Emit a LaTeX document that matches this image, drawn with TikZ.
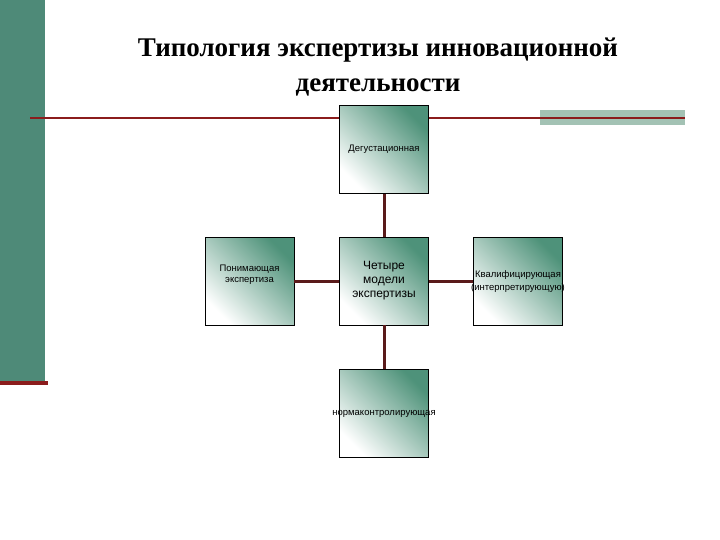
\documentclass[tikz,border=0pt]{standalone}
\usepackage{fontspec}
\setmainfont{Liberation Serif}
\newfontfamily\arial{Liberation Sans}
\definecolor{bar}{HTML}{4E8A78}
\definecolor{grn}{HTML}{2F7F62}
\definecolor{redl}{HTML}{8B1C1C}
\definecolor{conn}{HTML}{5A1A1A}
\definecolor{pale}{HTML}{A3C2B4}
\begin{document}
\begin{tikzpicture}[x=1pt,y=-1pt,
  box/.style={draw=black,line width=0.8pt,minimum width=89pt,minimum height=88pt,inner sep=0pt,
    shade,bottom color=white,middle color=white!90!grn,top color=grn!85!white,shading angle=-45,
    font=\arial\fontsize{9.5}{11}\selectfont,align=center},
  lbl/.style={font=\arial\fontsize{9.5}{11}\selectfont,align=center,inner sep=0pt},
  link/.style={draw=conn,line width=3pt}]
\useasboundingbox (0,0) rectangle (720,540);
\fill[white] (0,0) rectangle (720,540);
\fill[bar] (0,0) rectangle (45,382);
\fill[redl] (0,381) rectangle (48,385);
\fill[pale] (540,110) rectangle (685,125);
\draw[redl,line width=1.5pt] (30,118) -- (685,118);
\node[font=\bfseries\fontsize{27}{35}\selectfont,align=center] (title) at (378,67)
  {Типология экспертизы инновационной\\деятельности};
\node[box] (top) at (384,149.5) {Дегустационная};
\node[box] (mid) at (384,281) {};
\node[box] (left) at (249.5,281) {};
\node[box] (right) at (518,281) {};
\node[box] (bot) at (384,413) {};
\draw[link] (top.south) -- (mid.north);
\draw[link] (mid.south) -- (bot.north);
\draw[link] (left.east) -- (mid.west);
\draw[link] (mid.east) -- (right.west);
\node[font=\arial\fontsize{12}{14}\selectfont,align=center] (midt) at (384,281) {Четыре\\модели\\экспертизы};
\node[lbl] (lt) at (249.5,275) {Понимающая\\экспертиза};
\node[lbl,font=\arial\fontsize{9.5}{13}\selectfont] (rt) at (518,282) {Квалифицирующая\\(интерпретирующую)};
\node[lbl] (bt) at (384,414) {нормаконтролирующая};
\end{tikzpicture}
\end{document}
